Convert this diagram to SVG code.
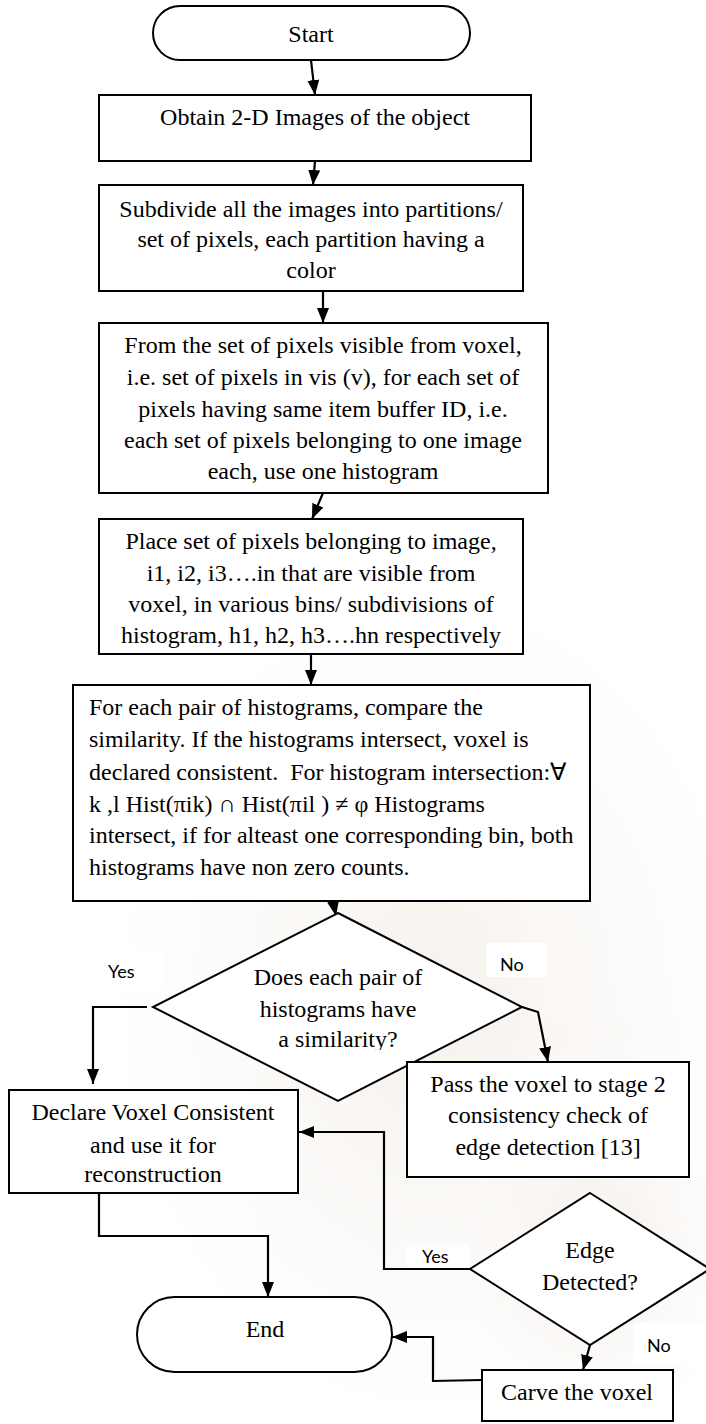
<svg xmlns="http://www.w3.org/2000/svg" width="706" height="1424" viewBox="0 0 706 1424">
<defs>
<style>
.box{fill:#fff;stroke:#000;stroke-width:2}
.t{font-family:"Liberation Serif","Times New Roman",serif;font-size:24px;fill:#000}
.c{text-anchor:middle}
.lbl{font-family:Lato,"Open Sans","Liberation Sans",sans-serif;font-size:18px;fill:#000}
.lblbg{fill:#fff}
.conn{fill:none;stroke:#000;stroke-width:2.2}
</style>
<marker id="ah" markerUnits="userSpaceOnUse" markerWidth="15" markerHeight="12" refX="15" refY="6" orient="auto">
<path d="M0,0 L15,6 L0,12 z" fill="#000"/>
</marker>
<clipPath id="dclip"><rect x="150" y="900" width="380" height="150"/></clipPath>
<radialGradient id="wm1" cx="0.5" cy="0.5" r="0.5">
<stop offset="0" stop-color="#e9ddd0" stop-opacity="0.7"/>
<stop offset="1" stop-color="#f4ece4" stop-opacity="0"/>
</radialGradient>
</defs>
<rect width="706" height="1424" fill="#fff"/>
<g id="watermark" opacity="0.6">
<ellipse cx="430" cy="1000" rx="330" ry="420" fill="url(#wm1)"/>
<ellipse cx="600" cy="1250" rx="140" ry="180" fill="url(#wm1)"/>
</g>

<g id="connectors">
<path class="conn" d="M311,60 L315,95" marker-end="url(#ah)"/>
<path class="conn" d="M315,161 L313,185" marker-end="url(#ah)"/>
<path class="conn" d="M323,291 L323,323" marker-end="url(#ah)"/>
<path class="conn" d="M323,493 L312,519" marker-end="url(#ah)"/>
<path class="conn" d="M311,654 L311,685" marker-end="url(#ah)"/>
<path class="conn" d="M333,901 L336,916" marker-end="url(#ah)"/>
<path class="conn" d="M147,1007 L93,1007 L93,1084" marker-end="url(#ah)"/>
<path class="conn" d="M522,1007 L538,1012 L548,1062" marker-end="url(#ah)"/>
<path class="conn" d="M470,1269 L384,1269 L384,1132 L299,1132" marker-end="url(#ah)"/>
<path class="conn" d="M590,1345 L583,1370" marker-end="url(#ah)"/>
<path class="conn" d="M482,1380 L433,1381 L433,1337 L392,1337" marker-end="url(#ah)"/>
<path class="conn" d="M99,1193 L99,1236 L268,1236 L268,1297" marker-end="url(#ah)"/>
</g>

<g id="start">
<rect class="box" x="153" y="6" width="317" height="54" rx="27"/>
<text class="t c" x="311" y="42">Start</text>
</g>

<g id="obtain">
<rect class="box" x="99" y="95" width="432" height="66"/>
<text class="t c" x="315" y="125">Obtain 2-D Images of the object</text>
</g>

<g id="subdivide">
<rect class="box" x="99" y="185" width="424" height="106"/>
<text class="t c" x="311" y="217">Subdivide all the images into partitions/</text>
<text class="t c" x="311" y="247">set of pixels, each partition having a</text>
<text class="t c" x="311" y="278">color</text>
</g>

<g id="fromset">
<rect class="box" x="99" y="323" width="449" height="170"/>
<text class="t c" x="323" y="353">From the set of pixels visible from voxel,</text>
<text class="t c" x="323" y="385">i.e. set of pixels in vis (v), for each set of</text>
<text class="t c" x="323" y="417">pixels having same item buffer ID, i.e.</text>
<text class="t c" x="323" y="448">each set of pixels belonging to one image</text>
<text class="t c" x="323" y="479">each, use one histogram</text>
</g>

<g id="place">
<rect class="box" x="99" y="519" width="424" height="135"/>
<text class="t c" x="311" y="549">Place set of pixels belonging to image,</text>
<text class="t c" x="311" y="581">i1, i2, i3….in that are visible from</text>
<text class="t c" x="311" y="612">voxel, in various bins/ subdivisions of</text>
<text class="t c" x="311" y="643">histogram, h1, h2, h3….hn respectively</text>
</g>

<g id="compare">
<rect class="box" x="73" y="685" width="517" height="216"/>
<text class="t" x="89" y="715">For each pair of histograms, compare the</text>
<text class="t" x="89" y="747">similarity. If the histograms intersect, voxel is</text>
<text class="t" x="89" y="780" style="white-space:pre">declared consistent.  For histogram intersection:∀</text>
<text class="t" x="89" y="812">k ,l Hist(πik) ∩ Hist(πil ) ≠ φ Histograms</text>
<text class="t" x="89" y="843">intersect, if for alteast one corresponding bin, both</text>
<text class="t" x="89" y="875">histograms have non zero counts.</text>
</g>

<g id="similarity">
<polygon class="box" points="338,913 522,1007 338,1101 153,1007"/>
<g clip-path="url(#dclip)">
<text class="t c" x="338" y="985">Does each pair of</text>
<text class="t c" x="338" y="1017">histograms have</text>
<text class="t c" x="338" y="1047">a similarity?</text>
</g>
</g>

<g id="label-yes1">
<rect class="lblbg" x="82" y="950" width="82" height="40"/>
<text class="lbl" x="108" y="978">Yes</text>
</g>
<g id="label-no1">
<rect class="lblbg" x="486" y="943" width="61" height="34"/>
<text class="lbl" x="500" y="971">No</text>
</g>

<g id="declare">
<rect class="box" x="9" y="1090" width="289" height="103"/>
<text class="t c" x="153" y="1120">Declare Voxel Consistent</text>
<text class="t c" x="153" y="1153">and use it for</text>
<text class="t c" x="153" y="1182">reconstruction</text>
</g>

<g id="pass">
<rect class="box" x="407" y="1062" width="282" height="115"/>
<text class="t c" x="548" y="1092">Pass the voxel to stage 2</text>
<text class="t c" x="548" y="1123">consistency check of</text>
<text class="t c" x="548" y="1155">edge detection [13]</text>
</g>

<g id="edge">
<polygon class="box" points="590,1193 710,1269 590,1345 470,1269"/>
<text class="t c" x="590" y="1258">Edge</text>
<text class="t c" x="590" y="1290">Detected?</text>
</g>

<g id="label-yes2">
<rect class="lblbg" x="407" y="1245" width="62" height="23"/>
<text class="lbl" x="422" y="1263">Yes</text>
</g>
<g id="label-no2">
<rect class="lblbg" x="633" y="1323" width="73" height="42"/>
<text class="lbl" x="647" y="1352">No</text>
</g>

<g id="end">
<rect class="box" x="137" y="1297" width="255" height="75" rx="37.5"/>
<text class="t c" x="265" y="1337">End</text>
</g>

<g id="carve">
<rect class="box" x="482" y="1370" width="191" height="51"/>
<text class="t c" x="577" y="1400">Carve the voxel</text>
</g>
</svg>
